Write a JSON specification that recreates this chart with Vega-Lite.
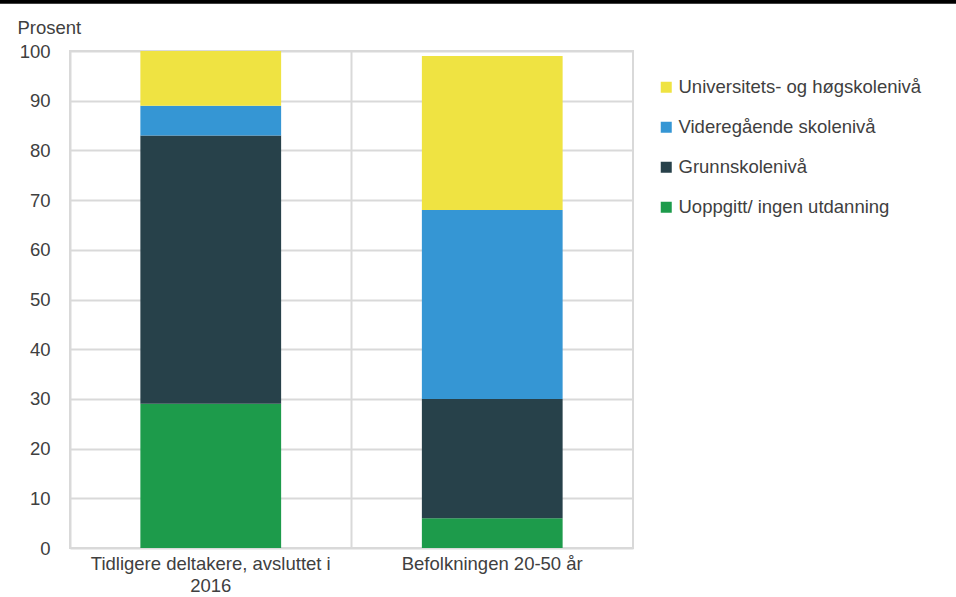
{
  "$schema": "https://vega.github.io/schema/vega-lite/v6.json",
  "width": 563,
  "height": 497,
  "autosize": {"type": "none"},
  "padding": {"left": 70, "top": 51, "right": 323, "bottom": 49},
  "background": "white",
  "config": {
    "font": "Liberation Sans",
    "view": {"stroke": "#d9d9d9", "strokeWidth": 2}
  },
  "layer": [
    {
      "data": {
        "values": [
          {"gruppe": "Tidligere deltakere, avsluttet i 2016", "niva": "Uoppgitt/ ingen utdanning", "rekkefolge": 1, "prosent": 29},
          {"gruppe": "Tidligere deltakere, avsluttet i 2016", "niva": "Grunnskolenivå", "rekkefolge": 2, "prosent": 54},
          {"gruppe": "Tidligere deltakere, avsluttet i 2016", "niva": "Videregående skolenivå", "rekkefolge": 3, "prosent": 6},
          {"gruppe": "Tidligere deltakere, avsluttet i 2016", "niva": "Universitets- og høgskolenivå", "rekkefolge": 4, "prosent": 11},
          {"gruppe": "Befolkningen 20-50 år", "niva": "Uoppgitt/ ingen utdanning", "rekkefolge": 1, "prosent": 6},
          {"gruppe": "Befolkningen 20-50 år", "niva": "Grunnskolenivå", "rekkefolge": 2, "prosent": 24},
          {"gruppe": "Befolkningen 20-50 år", "niva": "Videregående skolenivå", "rekkefolge": 3, "prosent": 38},
          {"gruppe": "Befolkningen 20-50 år", "niva": "Universitets- og høgskolenivå", "rekkefolge": 4, "prosent": 31}
        ]
      },
      "mark": {"type": "bar"},
      "encoding": {
        "x": {
          "field": "gruppe",
          "type": "nominal",
          "sort": null,
          "scale": {"paddingInner": 0.5, "paddingOuter": 0.25},
          "axis": {
            "title": null,
            "labelAngle": 0,
            "labelFontSize": 18.5,
            "labelColor": "#404040",
            "labelPadding": 6,
            "labelBaseline": "top",
            "labelLineHeight": 22,
            "labelLimit": 400,
            "ticks": false,
            "domain": false,
            "grid": true,
            "gridColor": "#d9d9d9",
            "gridWidth": 2,
            "bandPosition": -0.5,
            "labelExpr": "datum.value == 'Tidligere deltakere, avsluttet i 2016' ? ['Tidligere deltakere, avsluttet i', '2016'] : datum.value"
          }
        },
        "y": {
          "field": "prosent",
          "type": "quantitative",
          "stack": "zero",
          "scale": {"domain": [0, 100], "nice": false},
          "axis": {
            "title": "Prosent",
            "titleAngle": 0,
            "titleAlign": "left",
            "titleBaseline": "alphabetic",
            "titleX": -53,
            "titleY": -18,
            "titleFontSize": 18.5,
            "titleFontWeight": "normal",
            "titleColor": "#404040",
            "labelFontSize": 18.5,
            "labelColor": "#404040",
            "labelPadding": 20,
            "ticks": false,
            "domain": false,
            "gridColor": "#d9d9d9",
            "gridWidth": 2,
            "values": [0, 10, 20, 30, 40, 50, 60, 70, 80, 90, 100]
          }
        },
        "color": {
          "field": "niva",
          "type": "nominal",
          "scale": {
            "domain": ["Universitets- og høgskolenivå", "Videregående skolenivå", "Grunnskolenivå", "Uoppgitt/ ingen utdanning"],
            "range": ["#EFE342", "#3596D4", "#27414A", "#1D9B4B"]
          },
          "legend": {
            "title": null,
            "orient": "none",
            "legendX": 587,
            "legendY": 27,
            "symbolType": "square",
            "symbolSize": 121,
            "symbolStrokeWidth": 0,
            "labelFontSize": 18.5,
            "labelColor": "#404040",
            "labelOffset": 3,
            "rowPadding": 21,
            "labelLimit": 400
          }
        },
        "order": {"field": "rekkefolge", "type": "quantitative", "sort": "ascending"}
      }
    },
    {
      "data": {"values": [{}]},
      "mark": {"type": "rect", "color": "black", "clip": false},
      "encoding": {
        "x": {"datum": -0.13, "type": "quantitative", "scale": {"domain": [0, 1]}, "axis": null},
        "x2": {"datum": 1.6},
        "y": {"datum": 110.3, "type": "quantitative", "scale": {"domain": [0, 100]}},
        "y2": {"datum": 109.5}
      }
    }
  ],
  "resolve": {"scale": {"x": "independent"}}
}
